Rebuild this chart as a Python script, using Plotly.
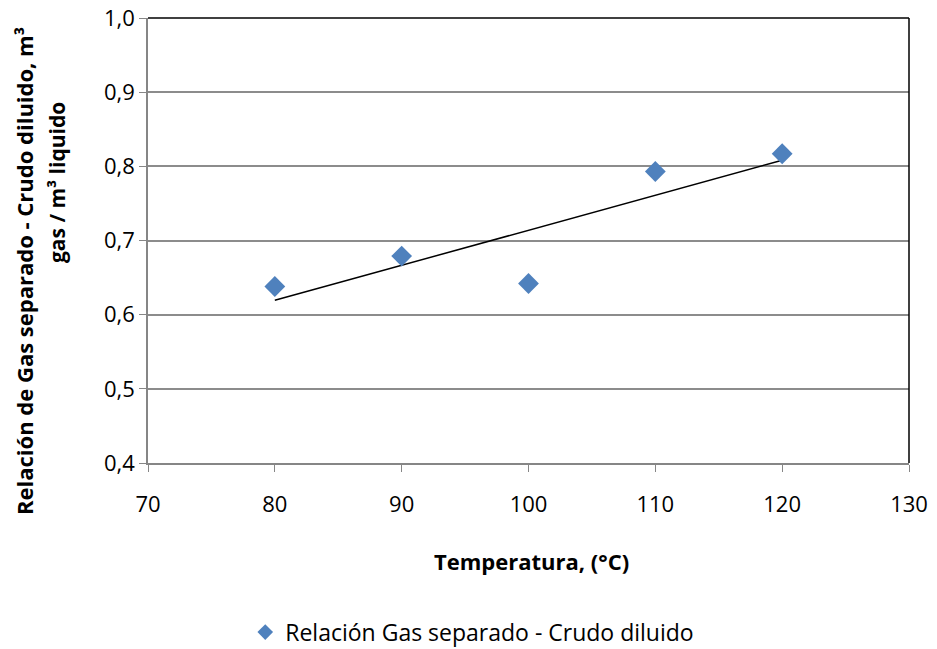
import numpy as np
import plotly.graph_objects as go

temperatura = [80, 90, 100, 110, 120]
relacion = [0.638, 0.679, 0.642, 0.793, 0.817]
x_ticks = [70, 80, 90, 100, 110, 120, 130]
y_ticks = [0.4, 0.5, 0.6, 0.7, 0.8, 0.9, 1.0]
y_labels = ["0,4", "0,5", "0,6", "0,7", "0,8", "0,9", "1,0"]
series_name = "Relación Gas separado - Crudo diluido"

slope, intercept = np.polyfit(temperatura, relacion, 1)
trend_x = [min(temperatura), max(temperatura)]
trend_y = [slope * v + intercept for v in trend_x]

FONT = "'Open Sans', sans-serif"
W, H = 937, 649
L, R, T, B = 148, 28, 18, 186
PW, PH = W - L - R, H - T - B


def px_x(p):
    return (p - L) / PW


def px_y(p):
    return (H - B - p) / PH


fig = go.Figure()
fig.add_trace(go.Scatter(
    x=trend_x, y=trend_y, mode="lines",
    line=dict(color="black", width=1.5), showlegend=False, hoverinfo="skip"))
fig.add_trace(go.Scatter(
    x=temperatura, y=relacion, mode="markers", name=series_name,
    marker=dict(symbol="diamond", size=16, color="#4F81BD")))

fig.update_layout(
    width=W, height=H,
    margin=dict(l=L, r=R, t=T, b=B, autoexpand=False),
    paper_bgcolor="white", plot_bgcolor="white",
    font=dict(family=FONT, size=21, color="black"),
    showlegend=True,
    legend=dict(orientation="h", xref="container", yref="container",
                x=0.504, xanchor="center", y=0.026, yanchor="middle",
                bgcolor="rgba(0,0,0,0)",
                font=dict(size=23), itemsizing="constant", itemwidth=30),
    xaxis=dict(range=[70, 130], tickvals=x_ticks, showgrid=False,
               showline=True, linecolor="#868686", linewidth=1.5,
               ticks="outside", tickcolor="#868686", ticklen=7,
               zeroline=False, tickfont=dict(size=22), automargin=False,
               ticklabelstandoff=14),
    yaxis=dict(range=[0.4, 1.0], tickvals=y_ticks, ticktext=y_labels,
               showgrid=True, gridcolor="#8C8C8C", gridwidth=1.5,
               showline=True, linecolor="#868686", linewidth=1.5,
               ticks="outside", tickcolor="#868686", ticklen=7,
               zeroline=False, tickfont=dict(size=22), automargin=False),
    shapes=[
        dict(type="line", xref="paper", yref="paper", x0=0, x1=1, y0=1, y1=1,
             line=dict(color="black", width=1.5), layer="above"),
        dict(type="line", xref="paper", yref="paper", x0=1, x1=1, y0=0, y1=1,
             line=dict(color="black", width=1.5), layer="above"),
    ],
    annotations=[
        dict(text="<b>Temperatura, (°C)</b>", xref="paper", yref="paper",
             x=px_x(531), y=px_y(561), xanchor="center", yanchor="middle",
             showarrow=False, font=dict(size=22)),
        dict(text="<b>Relación de Gas separado - Crudo diluido, m³</b>",
             xref="paper", yref="paper", textangle=-90,
             x=px_x(24), y=px_y(271), xanchor="center", yanchor="middle",
             showarrow=False, font=dict(size=22)),
        dict(text="<b>gas / m³ liquido</b>",
             xref="paper", yref="paper", textangle=-90,
             x=px_x(57), y=px_y(183), xanchor="center", yanchor="middle",
             showarrow=False, font=dict(size=21)),
    ],
)

fig.write_html("out.html")
